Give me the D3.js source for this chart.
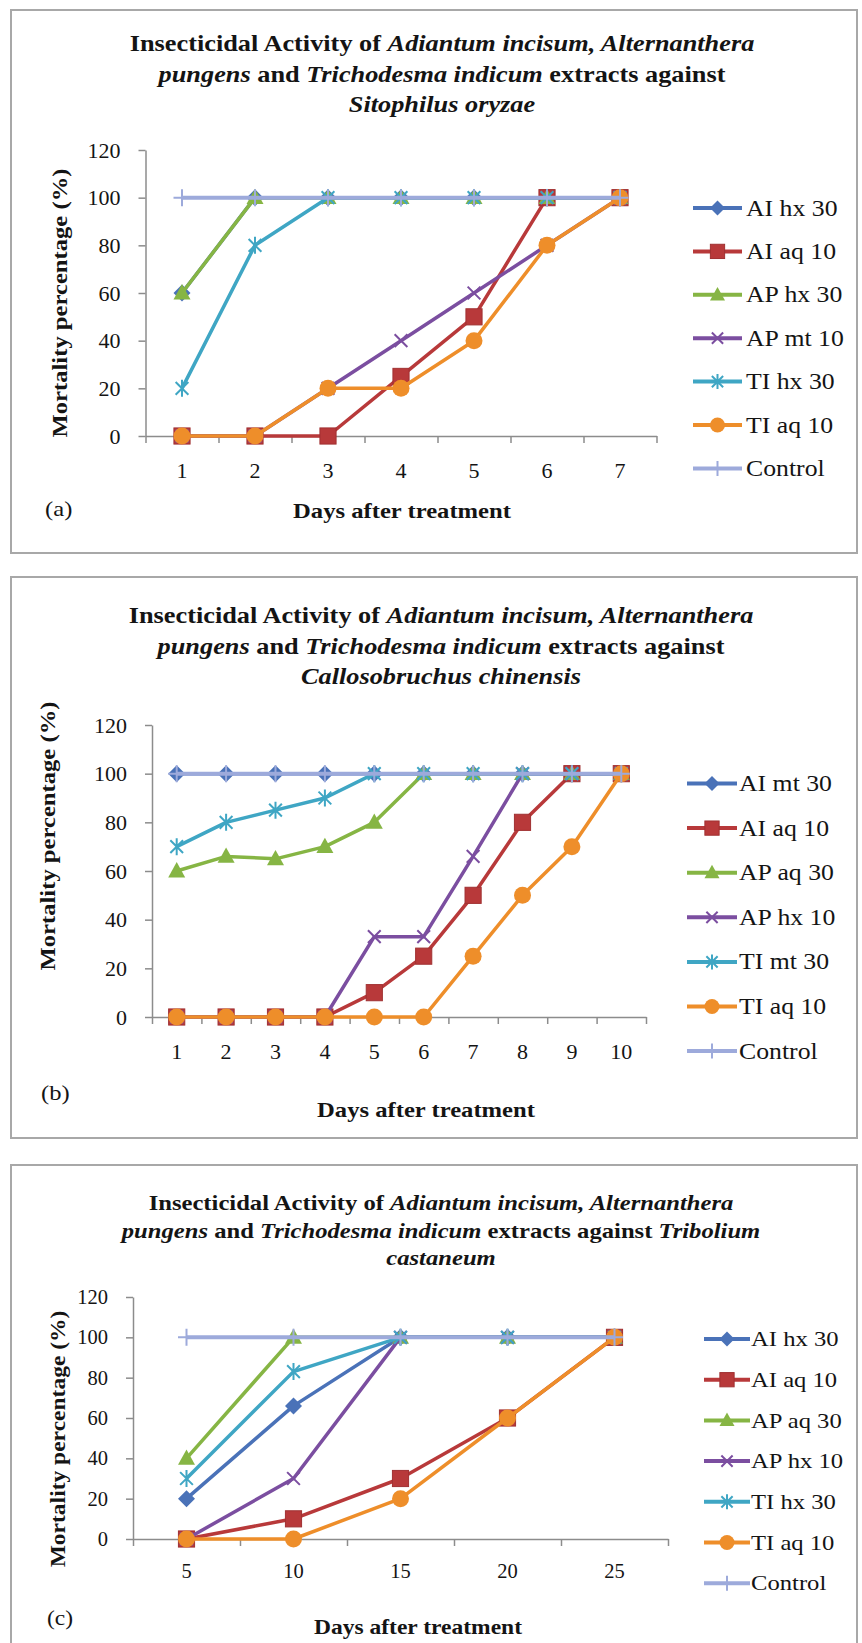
<!DOCTYPE html>
<html><head><meta charset="utf-8">
<script src="https://cdn.jsdelivr.net/npm/d3@7"></script>
<style>body{margin:0;background:#fff} svg{display:block} text{white-space:pre}</style>
</head><body><svg id="c" width="862" height="1643"></svg>
<script>
// ---------- data ----------
const yTicks = [0, 20, 40, 60, 80, 100, 120];

const daysA = ["1","2","3","4","5","6","7"];
const legendA = ["AI hx 30","AI aq 10","AP hx 30","AP mt 10","TI hx 30","TI aq 10","Control"];
const a_AIhx30 = [60,100,100,100,100,100,100];
const a_AIaq10 = [0,0,0,25,50,100,100];
const a_APhx30 = [60,100,100,100,100,100,100];
const a_APmt10 = [0,0,20,40,60,80,100];
const a_TIhx30 = [20,80,100,100,100,100,100];
const a_TIaq10 = [0,0,20,20,40,80,100];
const a_Control = [100,100,100,100,100,100,100];

const daysB = ["1","2","3","4","5","6","7","8","9","10"];
const legendB = ["AI mt 30","AI aq 10","AP aq 30","AP hx 10","TI mt 30","TI aq 10","Control"];
const b_AImt30 = [100,100,100,100,100,100,100,100,100,100];
const b_AIaq10 = [0,0,0,0,10,25,50,80,100,100];
const b_APaq30 = [60,66,65,70,80,100,100,100,100,100];
const b_APhx10 = [0,0,0,0,33,33,66,100,100,100];
const b_TImt30 = [70,80,85,90,100,100,100,100,100,100];
const b_TIaq10 = [0,0,0,0,0,0,25,50,70,100];
const b_Control = [100,100,100,100,100,100,100,100,100,100];

const daysC = ["5","10","15","20","25"];
const legendC = ["AI hx 30","AI aq 10","AP aq 30","AP hx 10","TI hx 30","TI aq 10","Control"];
const c_AIhx30 = [20,66,100,100,100];
const c_AIaq10 = [0,10,30,60,100];
const c_APaq30 = [40,100,100,100,100];
const c_APhx10 = [0,30,100,100,100];
const c_TIhx30 = [30,83,100,100,100];
const c_TIaq10 = [0,0,20,60,100];
const c_Control = [100,100,100,100,100];

const titleA = [
  [["Insecticidal Activity of ",0],["Adiantum incisum, Alternanthera",1]],
  [["pungens",1],[" and ",0],["Trichodesma indicum",1],[" extracts against",0]],
  [["Sitophilus oryzae",1]]
];
const titleB = [
  [["Insecticidal Activity of ",0],["Adiantum incisum, Alternanthera",1]],
  [["pungens",1],[" and ",0],["Trichodesma indicum",1],[" extracts against",0]],
  [["Callosobruchus chinensis",1]]
];
const titleC = [
  [["Insecticidal Activity of ",0],["Adiantum incisum, Alternanthera",1]],
  [["pungens",1],[" and ",0],["Trichodesma indicum",1],[" extracts against ",0],["Tribolium",1]],
  [["castaneum",1]]
];
const yTitle = "Mortality percentage (%)";
const xTitle = "Days after treatment";

// ---------- styles ----------
const COLORS = ["#4A72B8","#B8393A","#86B544","#7B4EA0","#3FA6C4","#EE8E2A","#9DAADB"];
const MARKERS = ["diamond","square","triangle","x","star","circle","plus"];
const FONT = "'Liberation Serif','Times New Roman',serif";
const SX = 1.12;

const svg = d3.select("#c");

const panels = [
  { frame:[11,10,857,553], title:titleA, tx:442, ty:[51,82,112], tsize:23.5,
    cats:daysA, legend:legendA, vals:[a_AIhx30,a_AIaq10,a_APhx30,a_APmt10,a_TIhx30,a_TIaq10,a_Control],
    x0:145.5, band:73, y0:436, y120:150, tick:22, xpad:26.5,
    yt:{x:59,y:303,size:22}, xt:{x:402,y:518,size:22}, tag:{t:"(a)",x:45,y:516,size:22},
    lg:{lx:693, lw:49, tx:746, y:208, dy:43.4, size:23} },
  { frame:[11,577,857,1138], title:titleB, tx:441, ty:[623,654,684], tsize:23.5,
    cats:daysB, legend:legendB, vals:[b_AImt30,b_AIaq10,b_APaq30,b_APhx10,b_TImt30,b_TIaq10,b_Control],
    x0:152, band:49.4, y0:1017, y120:725, tick:22, xpad:26,
    yt:{x:47,y:836,size:22}, xt:{x:426,y:1117,size:22}, tag:{t:"(b)",x:41,y:1100,size:22},
    lg:{lx:687, lw:50, tx:739, y:783.5, dy:44.6, size:23} },
  { frame:[11,1165,857,1680], title:titleC, tx:441, ty:[1210,1238,1265], tsize:22,
    cats:daysC, legend:legendC, vals:[c_AIhx30,c_AIaq10,c_APaq30,c_APhx10,c_TIhx30,c_TIaq10,c_Control],
    x0:133, band:107, y0:1539, y120:1297, tick:20.5, xpad:24.5,
    yt:{x:58,y:1439,size:21}, xt:{x:418,y:1634,size:21}, tag:{t:"(c)",x:47,y:1625,size:21},
    lg:{lx:704, lw:46, tx:751, y:1339, dy:40.7, size:22} }
];

function addText(parent, x, y, o) {
  const t = parent.append("text")
    .attr("transform", `translate(${x},${y}) rotate(${o.rotate||0}) scale(${SX},1)`)
    .attr("text-anchor", o.anchor||"start")
    .attr("font-family", FONT).attr("font-size", o.size)
    .attr("font-weight", o.weight||"normal").attr("fill", "#141414");
  if (o.dy) t.attr("dy", o.dy);
  o.parts.forEach(([s,it]) => t.append("tspan").text(s).attr("font-style", it ? "italic" : "normal"));
  return t;
}

function marker(g, type, cx, cy, s, color) {
  const h = s/2;
  if (type === "diamond") {
    g.append("path").attr("d",`M${cx},${cy-h}L${cx+h},${cy}L${cx},${cy+h}L${cx-h},${cy}Z`).attr("fill",color);
  } else if (type === "square") {
    const q = h*0.95;
    g.append("rect").attr("x",cx-q).attr("y",cy-q).attr("width",2*q).attr("height",2*q)
      .attr("fill",color).attr("stroke",d3.color(color).darker(0.4)).attr("stroke-width",1);
  } else if (type === "triangle") {
    g.append("path").attr("d",`M${cx},${cy-h*1.05}L${cx+h},${cy+h*0.75}L${cx-h},${cy+h*0.75}Z`).attr("fill",color);
  } else if (type === "x") {
    const q = h*0.75;
    g.append("path").attr("d",`M${cx-q},${cy-q}L${cx+q},${cy+q}M${cx-q},${cy+q}L${cx+q},${cy-q}`)
      .attr("stroke",color).attr("stroke-width",2).attr("fill","none");
  } else if (type === "star") {
    const q = h*0.75;
    g.append("path").attr("d",`M${cx-q},${cy-q}L${cx+q},${cy+q}M${cx-q},${cy+q}L${cx+q},${cy-q}M${cx},${cy-h}L${cx},${cy+h}`)
      .attr("stroke",color).attr("stroke-width",2).attr("fill","none");
  } else if (type === "circle") {
    g.append("circle").attr("cx",cx).attr("cy",cy).attr("r",h).attr("fill",color);
  } else if (type === "plus") {
    g.append("path").attr("d",`M${cx},${cy-h}L${cx},${cy+h}M${cx-h},${cy}L${cx+h},${cy}`)
      .attr("stroke",color).attr("stroke-width",2).attr("fill","none");
  }
}

panels.forEach(p => {
  const g = svg.append("g");
  const [fx0,fy0,fx1,fy1] = p.frame;
  g.append("rect").attr("x",fx0).attr("y",fy0).attr("width",fx1-fx0).attr("height",fy1-fy0)
    .attr("fill","none").attr("stroke","#A8A8A8").attr("stroke-width",2);

  p.title.forEach((line,i) => addText(g, p.tx, p.ty[i], {size:p.tsize, weight:"bold", anchor:"middle", parts:line}));

  const n = p.cats.length;
  const x1 = p.x0 + p.band*n;
  const x = d3.scaleBand().domain(p.cats).range([p.x0, x1]).padding(0);
  const idx = d3.scaleLinear().domain([0,n]).range([p.x0, x1]);
  const y = d3.scaleLinear().domain([0,120]).range([p.y0, p.y120]);
  const cx = c => x(c) + x.bandwidth()/2;

  const ya = g.append("g").attr("transform",`translate(${p.x0},0)`)
    .call(d3.axisLeft(y).tickValues(yTicks).tickSize(7).tickSizeOuter(0).tickPadding(18));
  ya.select(".domain").attr("stroke","#8C8C8C").attr("stroke-width",1.5);
  ya.selectAll(".tick line").attr("stroke","#8C8C8C").attr("stroke-width",1.5);
  ya.selectAll(".tick text").attr("font-family",FONT).attr("font-size",p.tick).attr("fill","#141414");

  const xb = g.append("g").attr("transform",`translate(0,${p.y0})`)
    .call(d3.axisBottom(idx).tickValues(d3.range(n+1)).tickSize(7).tickSizeOuter(0).tickFormat(""));
  xb.select(".domain").attr("stroke","#8C8C8C").attr("stroke-width",1.5);
  xb.selectAll(".tick line").attr("stroke","#8C8C8C").attr("stroke-width",1.5);
  const xl = g.append("g").attr("transform",`translate(0,${p.y0})`)
    .call(d3.axisBottom(x).tickSize(0).tickPadding(p.xpad));
  xl.select(".domain").remove();
  xl.selectAll(".tick text").attr("font-family",FONT).attr("font-size",p.tick).attr("fill","#141414");

  p.vals.forEach((vals,si) => {
    const col = COLORS[si];
    const sg = g.append("g");
    const line = d3.line().x((d,i) => cx(p.cats[i])).y(d => y(d));
    sg.append("path").datum(vals).attr("d",line).attr("fill","none")
      .attr("stroke",col).attr("stroke-width", si===6 ? 4 : 3.5).attr("stroke-linejoin","round");
    vals.forEach((v,i) => marker(sg, MARKERS[si], cx(p.cats[i]), y(v), 17, col));
  });

  p.legend.forEach((name,i) => {
    const ly = p.lg.y + p.lg.dy*i;
    const col = COLORS[i];
    g.append("line").attr("x1",p.lg.lx).attr("x2",p.lg.lx+p.lg.lw).attr("y1",ly).attr("y2",ly)
      .attr("stroke",col).attr("stroke-width",4);
    marker(g, MARKERS[i], p.lg.lx+p.lg.lw/2, ly, 15, col);
    addText(g, p.lg.tx, ly + p.lg.size*0.33, {size:p.lg.size, parts:[[name,0]]});
  });

  addText(g, p.yt.x, p.yt.y, {size:p.yt.size, weight:"bold", anchor:"middle", rotate:-90, dy:"0.35em", parts:[[yTitle,0]]});
  addText(g, p.xt.x, p.xt.y, {size:p.xt.size, weight:"bold", anchor:"middle", parts:[[xTitle,0]]});
  addText(g, p.tag.x, p.tag.y, {size:p.tag.size, parts:[[p.tag.t,0]]});
});
</script>
</body></html>
